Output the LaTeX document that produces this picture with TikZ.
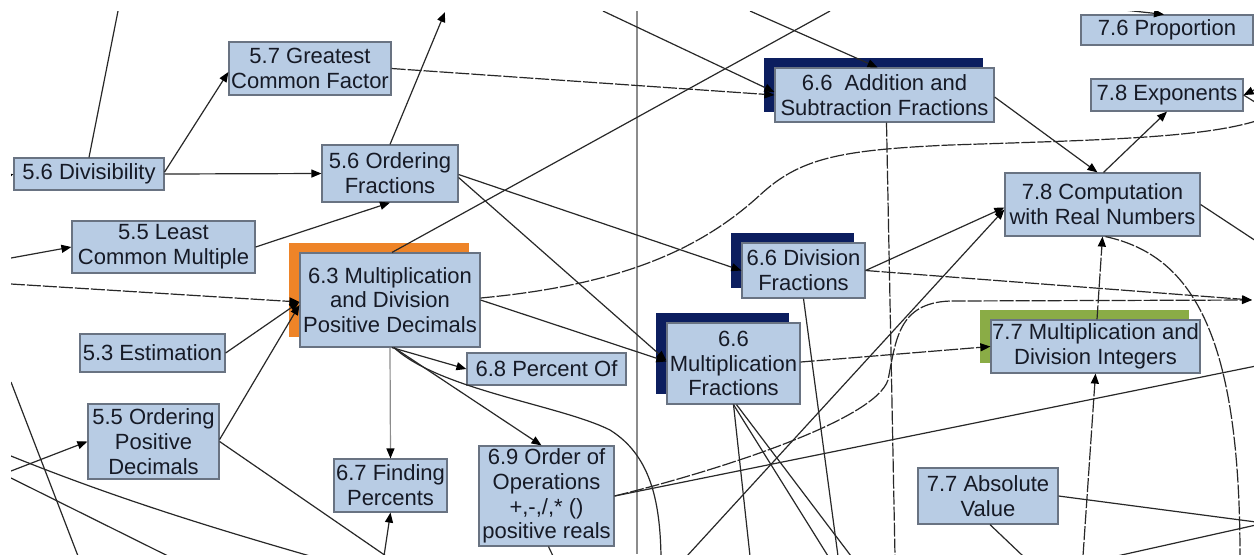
\documentclass[tikz,border=0pt]{standalone}
\usepackage{fontspec}
\setmainfont{Liberation Sans}
\usetikzlibrary{arrows.meta,calc,shadows}

\definecolor{boxfill}{RGB}{184,204,228}
\definecolor{boxline}{RGB}{105,115,130}
\definecolor{navy}{RGB}{12,30,95}
\definecolor{orangeback}{RGB}{238,132,40}
\definecolor{greenback}{RGB}{138,172,70}
\definecolor{wirecol}{RGB}{40,40,40}
\definecolor{txt}{RGB}{22,26,38}

\begin{document}
\begin{tikzpicture}[x=0.5pt,y=-0.5pt,
  topic/.style={draw=boxline, line width=0.6pt, fill=boxfill, inner sep=0pt,
    align=center, text=txt, font=\fontsize{11}{12.4}\selectfont},
  wh/.style 2 args={minimum width=#1*0.5pt, minimum height=#2*0.5pt},
  backed/.style={general shadow={fill=#1, shadow xshift=-5.5pt, shadow yshift=5.25pt}},
  wire/.style={draw=wirecol, line width=0.6pt},
  dashwire/.style={wire, dash pattern=on 7pt off 1pt},
  greywire/.style={draw=black!45, line width=0.6pt},
  tip/.style={-{Triangle[length=5pt,width=4pt,color=black]}},
]
\fill[white] (0,0) rectangle (1254,554);
\useasboundingbox (0,0) rectangle (1254,554);

% ---------- topics ----------
\node[topic, wh={162}{53}] (gcf) at (310,68.5) {5.7 Greatest\\Common Factor};
\node[topic, wh={150}{32}] (div) at (89,174) {5.6 Divisibility};
\node[topic, wh={136}{57}] (ordf) at (390,173.5) {5.6 Ordering\\Fractions};
\node[topic, wh={183}{52}] (lcm) at (163.5,247) {5.5 Least\\Common Multiple};
\node[topic, wh={180}{94}, backed=orangeback] (mdd) at (390,300) {6.3 Multiplication\\and Division\\Positive Decimals};
\node[topic, wh={145}{38}] (est) at (152.5,353) {5.3 Estimation};
\node[topic, wh={131}{75}] (opd) at (153.5,441.5) {5.5 Ordering\\Positive\\Decimals};
\node[topic, wh={113}{53}] (fp) at (390.5,485.5) {6.7 Finding\\Percents};
\node[topic, wh={159}{32}] (po) at (546.5,369) {6.8 Percent Of};
\node[topic, wh={135}{100}] (oo) at (546.5,496) {6.9 Order of\\Operations\\+,-,/,* ()\\positive reals};
\node[topic, wh={133}{81}, backed=navy] (mf) at (733.5,363.5) {6.6\\Multiplication\\Fractions};
\node[topic, wh={123}{55}, backed=navy] (dvf) at (803.5,270.5) {6.6 Division\\Fractions};
\node[topic, wh={219}{54}, backed=navy] (asf) at (884.5,95) {6.6\ \ Addition and\\Subtraction Fractions};
\node[topic, wh={172}{30}] (prop) at (1167,30) {7.6 Proportion};
\node[topic, wh={152}{32}] (exp) at (1167,95) {7.8 Exponents};
\node[topic, wh={195}{63}] (crn) at (1102.5,204.5) {7.8 Computation\\with Real Numbers};
\node[topic, wh={209}{53}, backed=greenback] (mdi) at (1095.5,346.5) {7.7 Multiplication and\\Division Integers};
\node[topic, wh={140}{56}] (av) at (988,496) {7.7 Absolute\\Value};

% ---------- free ends at the border of the sheet ----------
\coordinate (tA) at (118,11);
\coordinate (tG) at (445,12);
\coordinate (tI) at (603,11);
\coordinate (tJ) at (750,11);
\coordinate (tK) at (830,11);
\coordinate (tP) at (1115,9);
\coordinate (lD) at (3,178);
\coordinate (lE) at (11,258);
\coordinate (lR) at (11,284);
\coordinate (lS) at (11,471);
\coordinate (lY) at (11,382);
\coordinate (lZa) at (11,456);
\coordinate (lZb) at (11,478);
\coordinate (bT) at (386,556);
\coordinate (bU) at (384,556);
\coordinate (bX) at (661,556);
\coordinate (bOO) at (553,556);
\coordinate (bY) at (78,556);
\coordinate (bZa) at (310,556);
\coordinate (bZb) at (168,556);
\coordinate (bDv) at (838,556);
\coordinate (bMa) at (750,556);
\coordinate (bMb) at (828,556);
\coordinate (bMc) at (851,556);
\coordinate (bL) at (687,556);
\coordinate (bV) at (895,556);
\coordinate (bMI) at (1083,556);
\coordinate (bCv) at (1240,556);
\coordinate (bAv) at (1023,556);
\coordinate (bB) at (1117,556);
\coordinate (rO) at (1256,121);
\coordinate (rDv) at (1252,300);
\coordinate (rC) at (1256,241);
\coordinate (rXa) at (1258,88);
\coordinate (rXb) at (1258,104);
\coordinate (rA) at (1256,522);
\coordinate (rB) at (1256,525);
\coordinate (rOO) at (1256,366);

% ---------- connectors ----------
\begin{scope}
\clip (11,11) rectangle (1254,554);
\draw[greywire] (637,11) -- (637,554);

\draw[wire] (tA) -- (div.north);
\draw[wire,tip] (lD) -- (div.west);
\draw[wire,tip] ($(div.east)+(0,-2)$) -- ($(gcf.west)+(0,3.5)$);
\draw[wire,tip] (div.east) -- (ordf.west);
\draw[wire,tip] (lE) -- (lcm.west);
\draw[wire,tip] (lcm.east) -- (ordf.south);
\draw[wire,tip] (ordf.north) -- (tG);
\draw[dashwire,tip] (gcf.east) -- (asf.west);
\draw[wire,tip] (tI) -- ($(asf.west)+(0,-3)$);
\draw[wire,tip] (tJ) -- ($(asf.north)+(-7,0)$);
\draw[wire] ($(mdd.north)+(2,0)$) -- (tK);
\draw[wire,tip] ($(ordf.east)+(0,1)$) -- (dvf.west);
\draw[wire,tip] ($(ordf.east)+(0,4)$) -- ($(mf.west)+(0,-3)$);
\draw[wire,tip] (mdd.east) -- ($(mf.west)+(0,-2)$);
\draw[dashwire] ($(mdd.east)+(0,-2)$) .. controls (620,285) and (700,250) .. (760,195)
   .. controls (800,158) and (840,150) .. (950,145)
   .. controls (1100,140) and (1200,138) .. (rO);

\draw[dashwire,tip] (lR) -- ($(mdd.west)+(0,2)$);
\draw[wire,tip] (est.east) -- ($(mdd.west)+(0,2)$);
\draw[wire,tip] ($(opd.east)+(0,-2)$) -- ($(mdd.west)+(0,5)$);
\draw[wire,tip] (lS) -- (opd.west);
\draw[wire] (opd.east) -- (bT);
\draw[wire,tip] (bU) -- (fp.south);
\draw[greywire,tip] (mdd.south) -- (fp.north);
\draw[wire,tip] ($(mdd.south)+(2,0)$) -- (po.west);
\draw[wire,tip] ($(mdd.south)+(4,0)$) -- ($(oo.north)+(-5,0)$);
\draw[wire] ($(mdd.south)+(4,0)$) .. controls (440,390) and (560,405) .. (610,430)
   .. controls (650,455) and (660,500) .. (bX);
\draw[wire] ($(oo.south)+(2,0)$) -- (bOO);
\draw[wire] (lY) -- (bY);
\draw[wire] (lZa) .. controls (120,500) and (220,530) .. (bZa);
\draw[wire] (lZb) -- (bZb);

\draw[wire] (dvf.south) -- (bDv);
\draw[wire] (mf.south) -- (bMa);
\draw[wire] (mf.south) -- (bMb);
\draw[wire] ($(mf.south)+(3,0)$) -- (bMc);
\draw[dashwire,tip] ($(mf.east)+(0,-1.5)$) -- (mdi.west);
\draw[wire,tip] (bL) -- ($(crn.west)+(0,5)$);
\draw[wire,tip] (dvf.east) -- ($(crn.west)+(0,3)$);
\draw[dashwire,tip] (dvf.east) -- (rDv);
\draw[dashwire,tip] (oo.east) .. controls (720,470) and (875,420) .. (888,380)
   .. controls (896,340) and (898,303) .. (950,301) -- (rDv);
\draw[wire] (oo.east) -- (rOO);
\draw[dashwire] ($(asf.south)+(2,0)$) -- (bV);

\draw[wire,tip] ($(asf.east)+(0,2)$) -- ($(crn.north)+(-5,0)$);
\draw[wire,tip] ($(crn.north)+(1,0)$) -- (exp.south);
\draw[wire] (crn.east) -- (rC);
\draw[dashwire,tip] ($(mdi.north)+(1.5,0)$) -- (crn.south);
\draw[dashwire,tip] (bMI) -- (mdi.south);
\draw[dashwire] ($(crn.south)+(3,0)$) .. controls (1190,255) and (1240,330) .. (bCv);
\draw[wire,tip] (tP) -- ($(prop.north)+(-3,0)$);
\draw[wire,tip] (rXa) -- (exp.east);
\draw[wire] (rXb) -- (exp.east);
\draw[wire] (av.east) -- (rA);
\draw[wire] (bB) -- (rB);
\draw[wire] ($(av.south)+(2,0)$) -- (bAv);
\end{scope}
\end{tikzpicture}
\end{document}
